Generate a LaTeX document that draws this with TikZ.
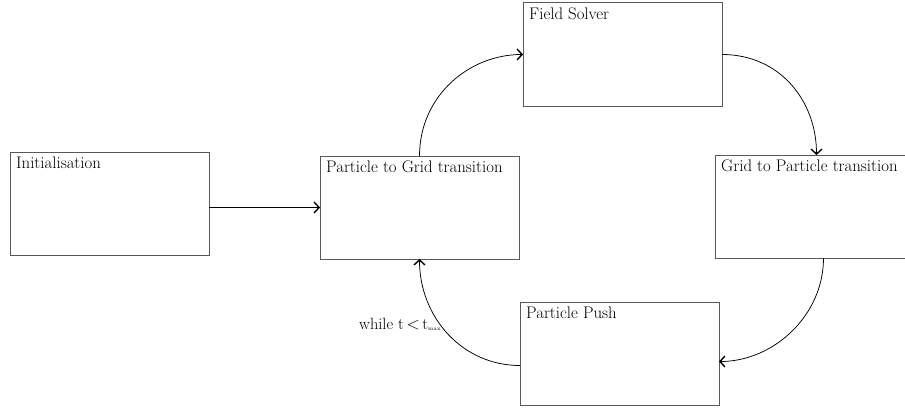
\documentclass[tikz,border=0pt]{standalone}
\usetikzlibrary{arrows.meta}
\begin{document}
\begin{tikzpicture}[x=1pt,y=-1pt,
  stage/.style={draw=black!65, line width=1pt, fill=white,
    minimum width=199pt, minimum height=103pt, anchor=north west,
    inner sep=0pt, outer sep=0pt},
  caption/.style={anchor=north west, inner sep=0pt, xshift=6pt, yshift=-4.5pt,
    font=\fontsize{16.8}{19}\selectfont},
  flow/.style={draw=black, line width=0.75pt,
    -{Straight Barb[length=5pt,width=11pt,line width=1.4pt]}}]
  % page frame
  \useasboundingbox (0,0) rectangle (905,412);
  \clip (0,0) rectangle (905,412);

  % stages of the loop
  \node[stage, label={[caption]north west:Initialisation}] (init) at (10,152) {};
  \node[stage, label={[caption]north west:Particle to Grid transition}] (p2g) at (320,156) {};
  \node[stage, label={[caption]north west:Field Solver}] (fs) at (523,3) {};
  \node[stage, label={[caption]north west:Grid to Particle transition}] (g2p) at (715,155) {};
  \node[stage, label={[caption]north west:Particle Push}] (push) at (520,302) {};

  % connectors
  \draw[flow] (init.east |- p2g.west) -- (p2g.west);
  \draw[flow] (p2g.north) .. controls +(0,-60) and +(-54,0) .. (fs.west);
  \draw[flow] (fs.east) .. controls +(58,0) and +(0,-54) .. ([xshift=2pt]g2p.north);
  \draw[flow] ([xshift=9pt]g2p.south) .. controls +(0,58) and +(54,0) .. ([yshift=-8pt]push.east);
  \draw[flow] ([yshift=-12pt]push.west) .. controls +(-58,0) and +(0,58) .. (p2g.south);

  % loop condition
  \node[anchor=base west, inner sep=0pt, font=\fontsize{16.3}{19}\selectfont] (cond) at (359,329)
    {while t\,$<$\,t\raisebox{-1.5pt}{\fontsize{5.5}{5}\selectfont max}};
\end{tikzpicture}
\end{document}
